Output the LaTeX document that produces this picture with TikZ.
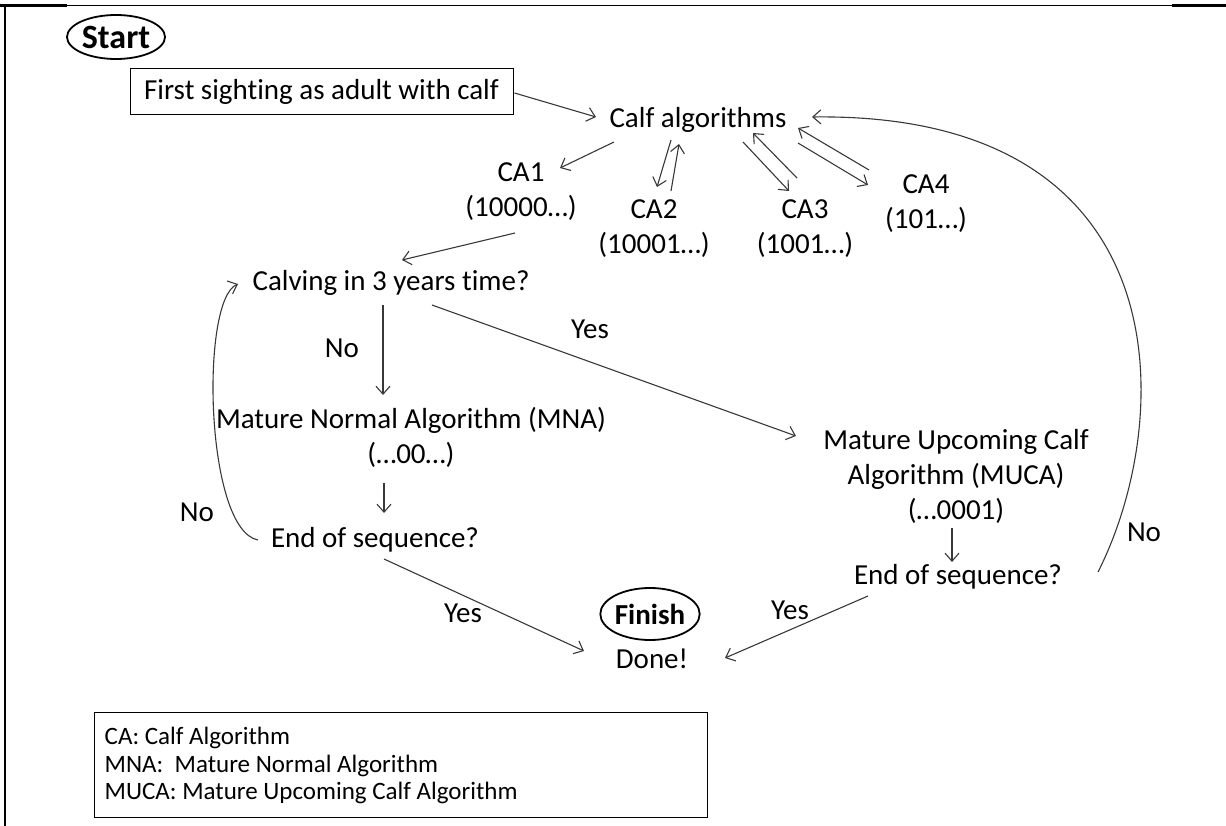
\documentclass[tikz,border=0pt]{standalone}
\usepackage{fontspec}
\setmainfont{Carlito}[Ligatures=NoCommon]
\usetikzlibrary{shapes.geometric,arrows.meta}
\begin{document}
\begin{tikzpicture}[x=1pt,y=-1pt,
  txt/.style={inner sep=0pt, font=\fontsize{29}{35}\selectfont, align=center},
  lbl/.style={inner sep=0pt, font=\fontsize{29}{35}\selectfont},
  term/.style={ellipse, draw=black, line width=1.8pt, inner sep=0pt, font=\bfseries\fontsize{29}{35}\selectfont},
  startbox/.style={draw=black, line width=1pt, inner sep=0pt, minimum width=383pt, minimum height=46pt, font=\fontsize{29}{35}\selectfont},
  legendframe/.style={draw=black, line width=1pt, inner sep=0pt, minimum width=613pt, minimum height=105pt},
  legendtext/.style={inner sep=0pt, align=left, font=\fontsize{25}{27.5}\selectfont},
  arr/.style={draw=black!78, line width=1.1pt, -{Straight Barb[length=8pt,width=14pt]}},
  frameline/.style={draw=black, line width=1.2pt}
]
\useasboundingbox (0,0) rectangle (1226,826);
% frame
\draw[frameline] (0,5.5) -- (1226,5.5);
\draw[frameline, line width=2.8pt] (0,5.5) -- (67,5.5);
\draw[frameline, line width=2.8pt] (1172,5.5) -- (1226,5.5);
\draw[frameline, line width=2.6pt] (5,4.2) -- (5,826);

% nodes
\node[term, minimum width=98pt, minimum height=44pt, font=\bfseries\fontsize{34}{40}\selectfont] (start) at (116,37) {Start};
\node[startbox] (first) at (321.5,92) {First sighting as adult with calf};
\node[txt] (calf) at (698,120) {Calf algorithms};
\node[txt] (ca1) at (521,192) {CA1\\(10000…)};
\node[txt] (ca2) at (654,229) {CA2\\(10001…)};
\node[txt] (ca3) at (805,229) {CA3\\(1001…)};
\node[txt] (ca4) at (926,204) {CA4\\(101…)};
\node[txt] (calving) at (391,283) {Calving in 3 years time?};
\node[txt] (mna) at (411,437) {Mature Normal Algorithm (MNA)\\(…00…)};
\node[txt] (endA) at (375,540) {End of sequence?};
\node[txt] (muca) at (956,476) {Mature Upcoming Calf\\Algorithm (MUCA)\\(…0001)};
\node[txt] (endB) at (958,577) {End of sequence?};
\node[term, minimum width=94pt, minimum height=52pt] (finish) at (650,614) {Finish};
\node[txt] (done) at (652,659) {Done!};

% labels
\node[lbl] (lno1) at (342,348) {No};
\node[lbl] (lyes1) at (590,329) {Yes};
\node[lbl] (lno2) at (197,512) {No};
\node[lbl] (lno3) at (1144,532) {No};
\node[lbl] (lyes2) at (463,613) {Yes};
\node[lbl] (lyes3) at (790,610) {Yes};

% legend
\node[legendframe] (legend) at (400.5,764.5) {};
\node[legendtext, anchor=west] (legendtxt) at ([xshift=11pt,yshift=-1pt]legend.west) {CA: Calf Algorithm\\MNA:\ \ Mature Normal Algorithm\\MUCA: Mature Upcoming Calf Algorithm};

% connectors
\draw[arr] ([shift={(1,1)}]first.east) -- ([shift={(-102,-3)}]calf.center);
\draw[arr] ([shift={(-84,22)}]calf.center) -- ([shift={(39,-24)}]ca1.center);
\draw[arr] ([shift={(-27,20)}]calf.center) -- ([shift={(3,-42)}]ca2.center);
\draw[arr] ([shift={(17,-38)}]ca2.center) -- ([shift={(-19,24)}]calf.center);
\draw[arr] ([shift={(45,22)}]calf.center) -- ([shift={(-16,-38)}]ca3.center);
\draw[arr] ([shift={(-8,-51)}]ca3.center) -- ([shift={(55,13)}]calf.center);
\draw[arr] ([shift={(100,23)}]calf.center) -- ([shift={(-58,-19)}]ca4.center);
\draw[arr] ([shift={(-57,-34)}]ca4.center) -- ([shift={(100,8)}]calf.center);
\draw[arr] ([shift={(-6,41)}]ca1.center) -- ([shift={(11,-23)}]calving.center);
\draw[arr] ([shift={(-8,22)}]calving.center) -- ([shift={(-28,-42)}]mna.center);
\draw[arr] ([shift={(41,22)}]calving.center) -- ([shift={(-160,-40)}]muca.center);
\draw[arr] ([shift={(-27,46)}]mna.center) -- ([shift={(9,-27)}]endA.center);
\draw[arr] ([shift={(-117,0)}]endA.center) .. controls (205,530) and (200,300) .. ([shift={(-153,1)}]calving.center);
\draw[arr] ([shift={(9,19)}]endA.center) -- ([shift={(-68,-8)}]done.center);
\draw[arr] ([shift={(-4,52)}]muca.center) -- ([shift={(-6,-15)}]endB.center);
\draw[arr] ([shift={(-90,19)}]endB.center) -- ([shift={(73,-1)}]done.center);
\draw[arr] ([shift={(140,-5)}]endB.center) .. controls (1175,420) and (1185,112) .. ([shift={(114,-3)}]calf.center);
\end{tikzpicture}
\end{document}
